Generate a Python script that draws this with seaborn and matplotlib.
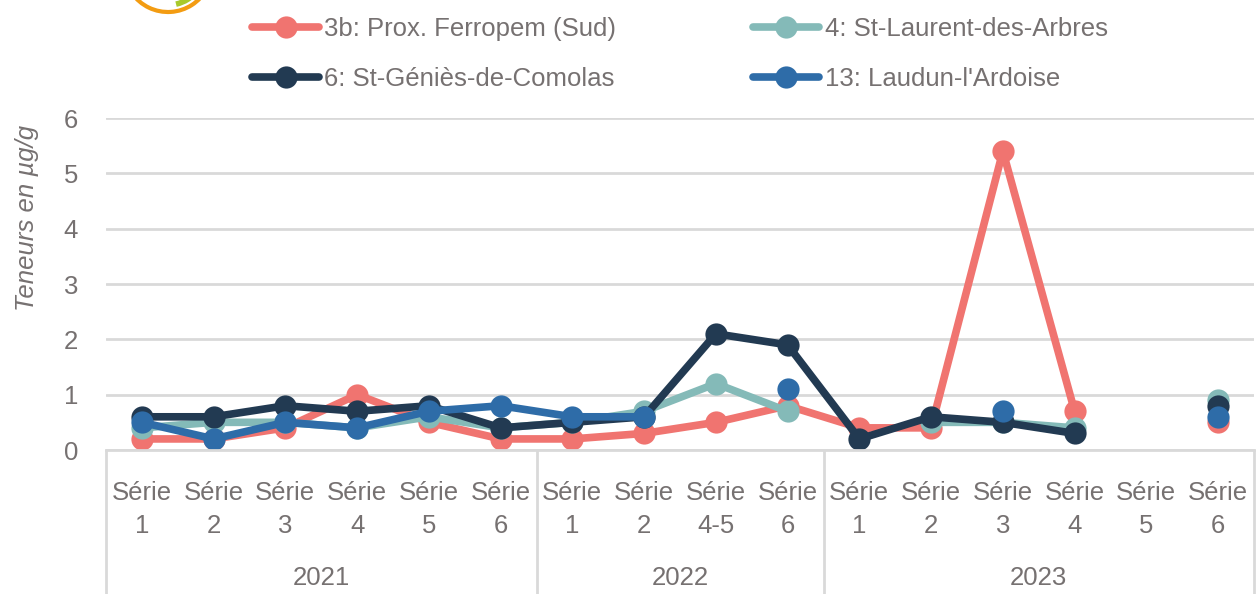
import numpy as np
import pandas as pd
import seaborn as sns
import matplotlib.pyplot as plt
from matplotlib.lines import Line2D
from matplotlib.patches import Arc
from matplotlib import font_manager

## data
years = ['2021', '2022', '2023']
series_per_year = [['1', '2', '3', '4', '5', '6'],
                   ['1', '2', '4-5', '6'],
                   ['1', '2', '3', '4', '5', '6']]

stations = ['3b: Prox. Ferropem (Sud)', '4: St-Laurent-des-Arbres',
            '6: St-Géniès-de-Comolas', "13: Laudun-l'Ardoise"]
colors = ['#F07470', '#84BAB8', '#223A52', '#2E6CA8']

nan = np.nan
ferropem = [0.2, 0.2, 0.4, 1.0, 0.5, 0.2, 0.2, 0.3, 0.5, 0.8, 0.4, 0.4, 5.4, 0.7, nan, 0.5]
st_laurent = [0.4, 0.5, 0.5, 0.4, 0.6, 0.4, 0.5, 0.7, 1.2, 0.7, nan, 0.5, 0.5, 0.4, nan, 0.9]
st_genies = [0.6, 0.6, 0.8, 0.7, 0.8, 0.4, 0.5, 0.6, 2.1, 1.9, 0.2, 0.6, 0.5, 0.3, nan, 0.8]
laudun = [0.5, 0.2, 0.5, 0.4, 0.7, 0.8, 0.6, 0.6, nan, 1.1, nan, nan, 0.7, nan, nan, 0.6]

values = [ferropem, st_laurent, st_genies, laudun]

## font
names = {f.name for f in font_manager.fontManager.ttflist}
if 'Liberation Sans Narrow' in names:
    fam, fs = 'Liberation Sans Narrow', 22
else:
    fam, fs = 'Liberation Sans', 18.5
txt_col = '#767171'

sns.set_theme(style='white')
plt.rcParams['font.family'] = [fam, 'DejaVu Sans']

## long table, one segment id per run of non-missing values (keeps gaps)
rows = []
for st, vals in zip(stations, values):
    seg = 0
    prev = False
    for i, v in enumerate(vals):
        if np.isnan(v):
            prev = False
            continue
        if not prev:
            seg += 1
        prev = True
        rows.append({'station': st, 'pos': i, 'val': v, 'seg': f'{st}_{seg}'})
df = pd.DataFrame(rows)

fig = plt.figure(figsize=(12.57, 5.94), dpi=100)
ax = fig.add_axes([106 / 1257, 1 - 450 / 594, (1254 - 106) / 1257, 332 / 594])

lw, ms = 5.5, 16
for st, c in zip(stations, colors):
    sub = df[df['station'] == st]
    sns.lineplot(data=sub, x='pos', y='val', units='seg', estimator=None,
                 color=c, lw=lw, marker='o', markersize=ms, markeredgewidth=0,
                 ax=ax, legend=False)

n = sum(len(s) for s in series_per_year)
ax.set_xlim(-0.5, n - 0.5)
ax.set_ylim(0, 6)
ax.set_yticks(range(0, 7))
ax.yaxis.grid(True, color='#D9D9D9', lw=2)
ax.set_axisbelow(True)
for s in ['top', 'right', 'left']:
    ax.spines[s].set_visible(False)
ax.spines['bottom'].set_color('#D9D9D9')
ax.spines['bottom'].set_linewidth(2)

tick_labels = [f'Série\n{s}' for grp in series_per_year for s in grp]
ax.set_xticks(range(n))
ax.set_xticklabels(tick_labels, fontsize=fs, color=txt_col, linespacing=1.5)
ax.tick_params(axis='x', length=0, pad=22)
ax.tick_params(axis='y', length=0, pad=20, labelsize=fs, labelcolor=txt_col)
ax.set_xlabel('')
ax.set_ylabel('')

## year groups
trans = ax.get_xaxis_transform()
start = -0.5
bounds = [start]
for yr, grp in zip(years, series_per_year):
    end = start + len(grp)
    ax.text((start + end) / 2, -0.385, yr, transform=trans, ha='center', va='center',
            fontsize=fs, color=txt_col)
    bounds.append(end)
    start = end
for b in bounds:
    ax.add_line(Line2D([b, b], [0, -0.5], transform=trans, color='#D9D9D9',
                       lw=2, clip_on=False))

fig.text(27 / 1257, 1 - 218 / 594, 'Teneurs en µg/g', rotation=90, style='italic',
         ha='center', va='center', fontsize=fs, color=txt_col)

## legend (column-wise fill -> reorder so rows read 3b, 4 / 6, 13)
order = [0, 2, 1, 3]
handles = [Line2D([], [], color=colors[i], lw=lw, marker='o', markersize=ms, markeredgewidth=0)
           for i in order]
labels = [stations[i] for i in order]
leg = fig.legend(handles, labels, ncol=2, loc='center', bbox_to_anchor=(680 / 1257, 1 - 54 / 594),
                 frameon=False, fontsize=fs, labelcolor=txt_col, handlelength=2.6,
                 handletextpad=0.2, columnspacing=5.3, labelspacing=1.05)

## partial logo in the corner
fig.add_artist(Arc((168 / 1257, 626 / 594), 88 / 1257, 88 / 594, theta1=236, theta2=312,
                   transform=fig.transFigure, color='#F39C12', lw=3))
fig.add_artist(Arc((168 / 1257, 626 / 594), 74 / 1257, 74 / 594, theta1=276, theta2=302,
                   transform=fig.transFigure, color='#A8C92B', lw=4))

fig.savefig('out.png', dpi=100)
